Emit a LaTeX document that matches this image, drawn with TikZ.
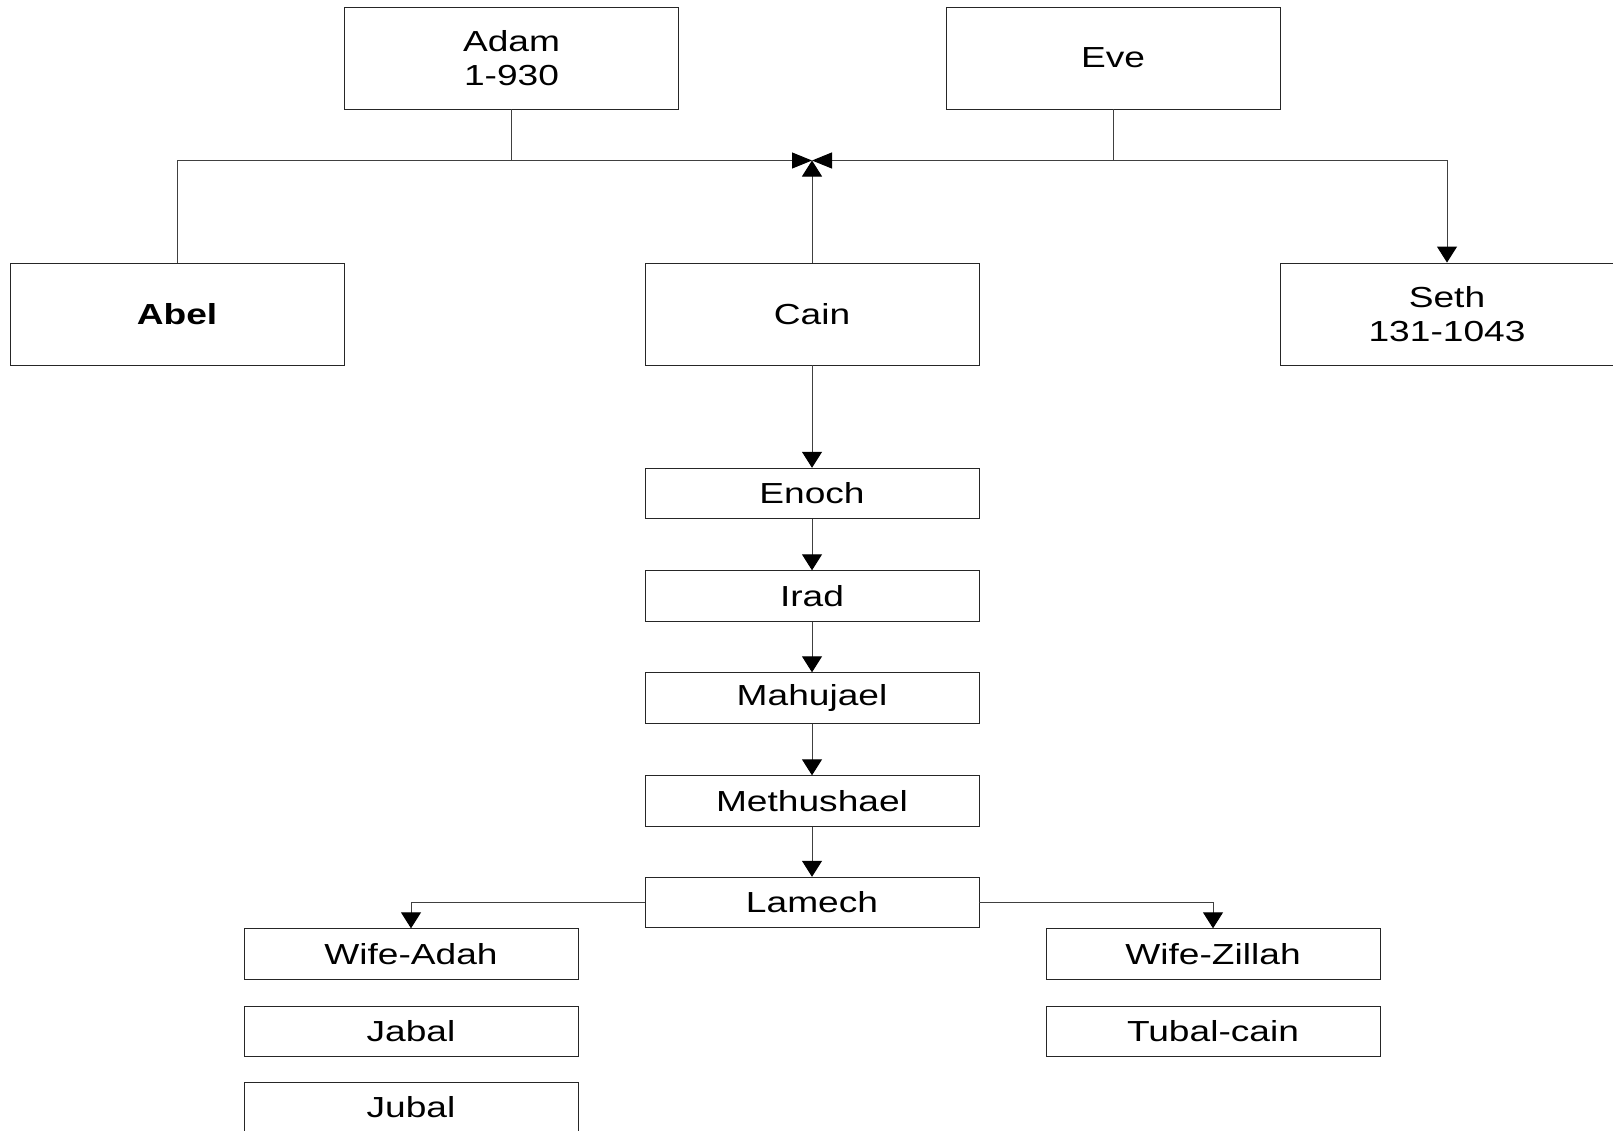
\documentclass[tikz,border=0pt]{standalone}
\usepackage{fontspec}
\setmainfont[FakeStretch=1.28]{Liberation Sans}
\usetikzlibrary{arrows.meta}
\begin{document}
\begin{tikzpicture}[x=1pt,y=-1pt,
  box/.style={draw=black!85, line width=0.9pt, fill=white, minimum width=334pt,
    inner sep=0pt, align=center, font=\fontsize{29}{34}\selectfont},
  big/.style={box, minimum height=102pt},
  small/.style={box, minimum height=50.5pt},
  conn/.style={draw=black!75, line width=1pt},
  varrow/.style={conn, -{Triangle[length=16pt,width=20pt,fill=black,color=black]}},
  harrow/.style={conn, -{Triangle[length=20pt,width=16pt,fill=black,color=black]}}]
\useasboundingbox (0,0) rectangle (1613,1130);
\clip (0,0) rectangle (1613,1130);
\fill[white] (0,0) rectangle (1613,1130);
% nodes
\node[big] (adam) at (511.5,58) {Adam\\1-930};
\node[big] (eve) at (1113,58) {Eve};
\node[big] (abel) at (177,314) {\textbf{Abel}};
\node[big] (cain) at (812,314) {Cain};
\node[big] (seth) at (1447,314) {Seth\\131-1043};
\node[small] (enoch) at (812,493.5) {Enoch};
\node[small] (irad) at (812,596) {Irad};
\node[small] (mahujael) at (812,698) {Mahujael};
\node[small] (methushael) at (812,801) {Methushael};
\node[small] (lamech) at (812,902.5) {Lamech};
\node[small] (adah) at (411,954) {Wife-Adah};
\node[small] (jabal) at (411,1031.5) {Jabal};
\node[small] (jubal) at (411,1107.5) {Jubal};
\node[small] (zillah) at (1213,954) {Wife-Zillah};
\node[small] (tubal) at (1213,1031.5) {Tubal-cain};
\coordinate (jn) at (812,160.5);
% connectors
\draw[conn] (abel.north) |- (adam.south |- jn);
\draw[harrow] (adam.south) |- (jn);
\draw[harrow] (eve.south) |- (jn);
\draw[varrow] (eve.south |- jn) -| (seth.north);
\draw[varrow] (cain.north) -- (jn);
\draw[varrow] (cain.south) -- (enoch.north);
\draw[varrow] (enoch.south) -- (irad.north);
\draw[varrow] (irad.south) -- (mahujael.north);
\draw[varrow] (mahujael.south) -- (methushael.north);
\draw[varrow] (methushael.south) -- (lamech.north);
\draw[varrow] (lamech.west) -| (adah.north);
\draw[varrow] (lamech.east) -| (zillah.north);
\end{tikzpicture}
\end{document}
